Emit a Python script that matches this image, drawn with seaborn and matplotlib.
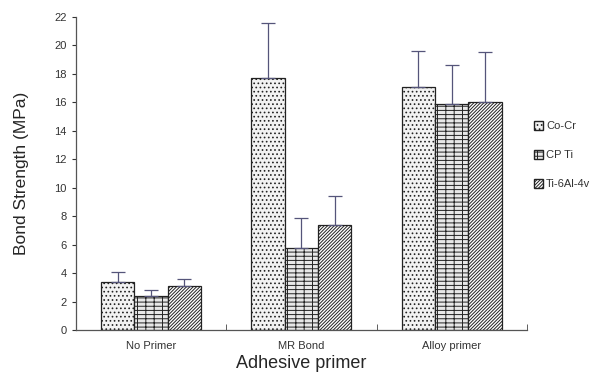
import numpy as np
import pandas as pd
import seaborn as sns
import matplotlib.pyplot as plt
from matplotlib.patches import Patch

# data
primers = ['No Primer', 'MR Bond', 'Alloy primer']
alloys = ['Co-Cr', 'CP Ti', 'Ti-6Al-4v']
cocr_mean = [3.4, 17.7, 17.05]
cpti_mean = [2.4, 5.8, 15.85]
ti64_mean = [3.1, 7.4, 16.0]
cocr_sd = [0.65, 3.9, 2.55]
cpti_sd = [0.45, 2.1, 2.75]
ti64_sd = [0.5, 2.05, 3.5]

rows = []
for alloy, means, sds in zip(alloys, [cocr_mean, cpti_mean, ti64_mean], [cocr_sd, cpti_sd, ti64_sd]):
    for p, m, s in zip(primers, means, sds):
        rows.append({'primer': p, 'alloy': alloy, 'mean': m, 'sd': s})
df = pd.DataFrame(rows)

sns.set_style('white')
plt.rcParams['font.family'] = ['Liberation Sans', 'DejaVu Sans']
plt.rcParams['hatch.linewidth'] = 0.7

fig = plt.figure(figsize=(5.92, 3.83), dpi=100)
ax = fig.add_axes([0.128, 0.138, 0.762, 0.818])

fills = ['#f2f2f2', '#e8e8e8', '#ffffff']
hatches = ['....', '----||', '//////////']
sns.barplot(data=df, x='primer', y='mean', hue='alloy', order=primers, hue_order=alloys,
            palette=fills, width=0.665, errorbar=None, edgecolor='#222222', linewidth=0.9,
            ax=ax, legend=False)

# hatches and upper error bars
for i, alloy in enumerate(alloys):
    sub = df[df.alloy == alloy].set_index('primer').loc[primers]
    bars = ax.patches[i * 3:(i + 1) * 3]
    xs = []
    for b in bars:
        b.set_hatch(hatches[i])
        xs.append(b.get_x() + b.get_width() / 2)
    ax.errorbar(xs, sub['mean'].values, yerr=[np.zeros(3), sub['sd'].values], fmt='none',
                ecolor='#55557a', elinewidth=0.9, capsize=5, capthick=0.9, zorder=1)

ax.set_ylim(0, 22)
ax.set_xlim(-0.5, 2.5)
ax.set_yticks(range(0, 23, 2))
ax.set_xticks([0.5, 1.5, 2.5], minor=True)
ax.tick_params(axis='x', which='major', length=0, labelsize=8, colors='#333333', pad=8)
ax.tick_params(axis='x', which='minor', length=4, direction='in', color='#444444', bottom=True)
ax.tick_params(axis='y', length=3, direction='out', labelsize=8, colors='#333333', left=True)
for s in ['top', 'right']:
    ax.spines[s].set_visible(False)
for s in ['left', 'bottom']:
    ax.spines[s].set_color('#555555')
    ax.spines[s].set_linewidth(0.9)

ax.set_xlabel('Adhesive primer', fontsize=13, labelpad=3)
ax.set_ylabel('Bond Strength (MPa)', fontsize=12.5, labelpad=18)

handles = [Patch(facecolor=fills[i], edgecolor='#222222', hatch=hatches[i], label=alloys[i])
           for i in range(3)]
fig.legend(handles=handles, loc='center left', bbox_to_anchor=(0.885, 0.595), frameon=False,
           fontsize=8, handlelength=0.8, handleheight=0.8, handletextpad=0.3,
           labelspacing=1.7, labelcolor='#333333')

fig.savefig('out.png', dpi=100)
